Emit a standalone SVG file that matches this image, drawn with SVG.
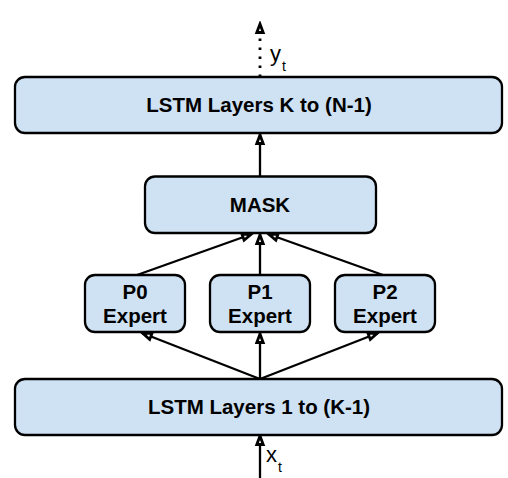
<svg xmlns="http://www.w3.org/2000/svg" width="508" height="478" viewBox="0 0 508 478">
<style>
.box{fill:#cfe2f3;stroke:#000;stroke-width:2.3}
.lbl{font-family:"Liberation Sans",Arial,sans-serif;font-weight:bold;font-size:20.5px;text-anchor:middle;fill:#000}
.var{font-family:"Liberation Sans",Arial,sans-serif;font-size:22px;fill:#000}
.sub{font-family:"Liberation Sans",Arial,sans-serif;font-size:14px;fill:#000}
.con{stroke:#000;stroke-width:2.3;fill:none;marker-end:url(#ah)}
.dot{stroke:#000;stroke-width:2.8;fill:none;stroke-dasharray:2.5 6.5;marker-end:url(#ah)}
</style>
<defs>
<marker id="ah" viewBox="0 0 14 12" markerWidth="14" markerHeight="12" markerUnits="userSpaceOnUse" refX="11.5" refY="6" orient="auto">
<path d="M2,2.8 L10.5,6 L2,9.2 z" fill="#fff" stroke="#000" stroke-width="2.8" stroke-linejoin="miter"/>
</marker>
</defs>
<rect width="508" height="478" fill="#fff"/>
<g id="connectors">
<line class="dot" x1="260" y1="77" x2="260" y2="23"/>
<line class="con" x1="260" y1="176" x2="260" y2="134"/>
<line class="con" x1="137" y1="275" x2="252" y2="234"/>
<line class="con" x1="260" y1="275" x2="260" y2="234"/>
<line class="con" x1="383" y1="275" x2="268" y2="234"/>
<line class="con" x1="260" y1="379" x2="142" y2="333"/>
<line class="con" x1="260" y1="379" x2="260" y2="333"/>
<line class="con" x1="260" y1="379" x2="378" y2="333"/>
<line class="con" x1="260" y1="478" x2="260" y2="435"/>
</g>
<g id="top-lstm">
<rect class="box" x="15" y="77" width="487" height="56" rx="10"/>
<text class="lbl" x="259" y="112">LSTM Layers K to (N-1)</text>
</g>
<g id="mask">
<rect class="box" x="145" y="176.5" width="231" height="56.5" rx="10"/>
<text class="lbl" x="260" y="212">MASK</text>
</g>
<g id="p0">
<rect class="box" x="85" y="275" width="100" height="57" rx="10"/>
<text class="lbl" x="135" y="299">P0</text>
<text class="lbl" x="135" y="323">Expert</text>
</g>
<g id="p1">
<rect class="box" x="210" y="275" width="100" height="57" rx="10"/>
<text class="lbl" x="260" y="299">P1</text>
<text class="lbl" x="260" y="323">Expert</text>
</g>
<g id="p2">
<rect class="box" x="335" y="275" width="100" height="57" rx="10"/>
<text class="lbl" x="385" y="299">P2</text>
<text class="lbl" x="385" y="323">Expert</text>
</g>
<g id="bottom-lstm">
<rect class="box" x="15" y="379" width="487" height="56" rx="10"/>
<text class="lbl" x="259" y="414">LSTM Layers 1 to (K-1)</text>
</g>
<g id="output-label">
<text class="var" x="270" y="61">y</text>
<text class="sub" x="282" y="71">t</text>
</g>
<g id="input-label">
<text class="var" x="266" y="462">x</text>
<text class="sub" x="278" y="472">t</text>
</g>
</svg>
